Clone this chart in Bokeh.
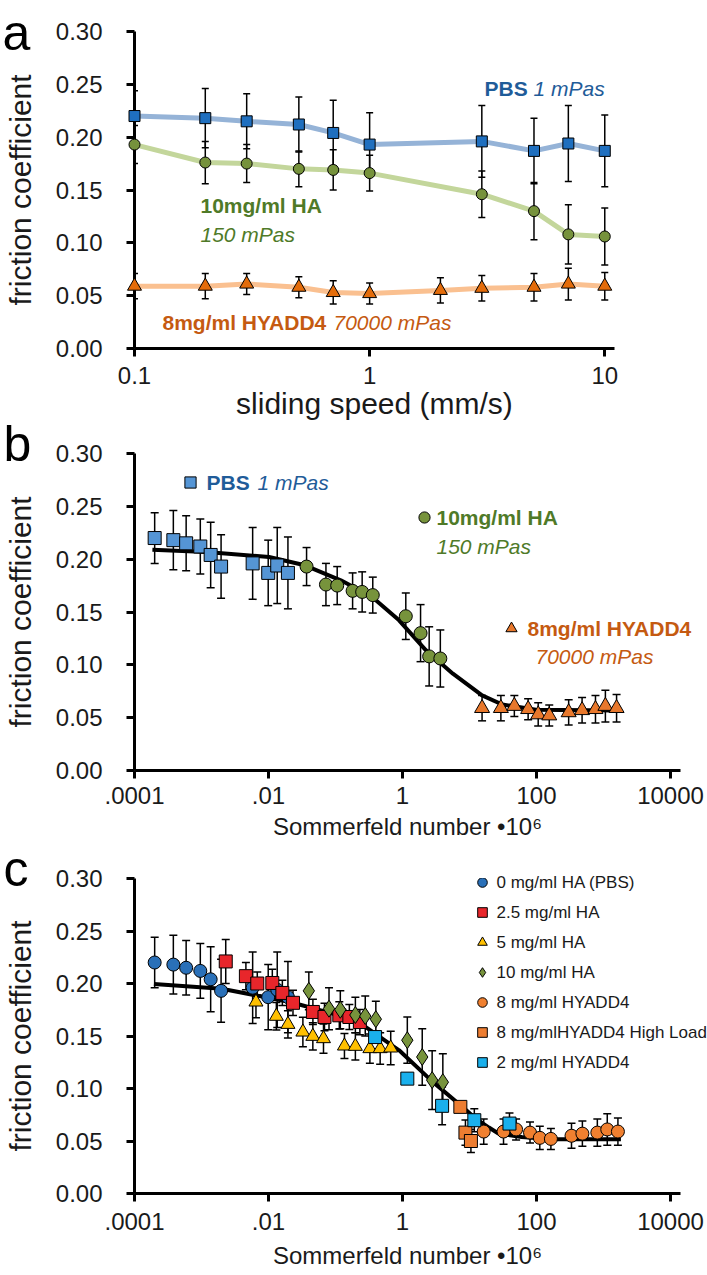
import numpy as np
from bokeh.plotting import figure
from bokeh.models import (ColumnDataSource, Whisker, TeeHead, Range1d, FixedTicker,
                          NumeralTickFormatter, Legend, LegendItem)
from bokeh.core.properties import value
from bokeh.embed import file_html
from bokeh.resources import INLINE

# ---------------- data ----------------
y_ticks = [0.0, 0.05, 0.10, 0.15, 0.20, 0.25, 0.30]
a_ticks = [0.1, 1, 10]
a_tick_labels = ["0.1", "1", "10"]
s_ticks = [1e-4, 1e-2, 1, 100, 1e4]
s_tick_labels = [".0001", ".01", "1", "100", "10000"]

# panel a : friction vs sliding speed
speed = [0.1, 0.2, 0.3, 0.5, 0.7, 1, 3, 5, 7, 10]
pbs_mu = [0.220, 0.218, 0.215, 0.212, 0.204, 0.193, 0.196, 0.187, 0.194, 0.187]
pbs_err = [0.024, 0.028, 0.026, 0.026, 0.031, 0.030, 0.034, 0.031, 0.036, 0.034]
ha_mu = [0.193, 0.176, 0.175, 0.170, 0.169, 0.166, 0.146, 0.130, 0.108, 0.106]
ha_err = [0.018, 0.020, 0.018, 0.017, 0.019, 0.017, 0.022, 0.027, 0.028, 0.027]
speed_hy = [0.1, 0.2, 0.3, 0.5, 0.7, 1, 2, 3, 5, 7, 10]
hy_mu = [0.059, 0.059, 0.061, 0.058, 0.053, 0.052, 0.055, 0.057, 0.058, 0.061, 0.059]
hy_err = [0.012, 0.012, 0.010, 0.010, 0.011, 0.010, 0.012, 0.012, 0.013, 0.015, 0.013]

# panel b : Sommerfeld numbers (x 10^6)
som_pbs = [2.0e-4, 3.8e-4, 5.9e-4, 9.6e-4, 1.37e-3, 1.96e-3, 5.8e-3, 9.9e-3, 1.35e-2, 1.95e-2]
som_ha_b = [0.037, 0.072, 0.106, 0.18, 0.25, 0.36, 1.12, 1.86, 2.5, 3.67]
som_hy_b = [15.4, 29.4, 46.7, 75, 106, 155, 302, 479, 759, 1067, 1567]
fit_b_x = [1.85e-4, 1.18e-3, 1.02e-2, 3.49e-2, 0.12, 0.352, 0.889, 2.24, 5.65, 15.4, 30.8, 98, 1567]
fit_b_y = [0.209, 0.2068, 0.2021, 0.1942, 0.180, 0.1642, 0.1421, 0.1137, 0.0916, 0.0711, 0.0625, 0.0574, 0.0569]

# panel c
som_ha_c = [0.040, 0.080, 0.118, 0.198, 0.278, 0.40, 1.18, 1.97, 2.77, 4.0]
som_hy_c = [16.3, 32.2, 49.6, 80, 112, 164, 333, 484, 809, 1138, 1641]
som_r = [2.3e-3, 4.6e-3, 6.8e-3, 1.14e-2, 1.61e-2, 2.32e-2, 4.6e-2, 6.85e-2, 0.114, 0.161, 0.231]
mu_r = [0.221, 0.207, 0.200, 0.2005, 0.191, 0.1816, 0.1729, 0.1681, 0.1697, 0.1681, 0.1633]
err_r = [0.021, 0.013, 0.011, 0.013, 0.012, 0.012, 0.012, 0.013, 0.013, 0.012, 0.012]
som_y = [6.5e-3, 1.31e-2, 1.95e-2, 3.26e-2, 4.59e-2, 6.62e-2, 0.136, 0.198, 0.326, 0.464, 0.667]
mu_y = [0.1824, 0.1688, 0.1611, 0.1538, 0.1497, 0.1475, 0.1405, 0.1402, 0.138, 0.138, 0.1386]
err_y = [0.015, 0.013, 0.013, 0.014, 0.013, 0.014, 0.012, 0.013, 0.014, 0.015, 0.016]
som_hl = [7.3, 8.7, 10.5]
mu_hl = [0.0825, 0.058, 0.050]
err_hl = [0.003, 0.012, 0.011]
som_2 = [0.39, 1.18, 3.9, 11.8, 39.5]
mu_2 = [0.149, 0.1094, 0.0835, 0.0698, 0.0666]
err_2 = [0.004, 0.003, 0.018, 0.011, 0.010]
fit_c_x = [1.95e-4, 2.0e-3, 2.1e-2, 9.1e-2, 0.28, 0.89, 2.75, 8.7, 12.3, 19.5, 27, 60, 186, 1820]
fit_c_y = [0.1995, 0.195, 0.1824, 0.1713, 0.1586, 0.1364, 0.107, 0.080, 0.0714, 0.0628, 0.0571, 0.0539, 0.0517, 0.0517]

legend_c = ["0 mg/ml HA (PBS)", "2.5 mg/ml HA", "5 mg/ml HA", "10 mg/ml HA",
            "8 mg/ml HYADD4", "8 mg/mlHYADD4 High Load", "2 mg/ml HYADD4"]

# ---------------- style ----------------
FONT = "Liberation Sans"
W = 707
INK = "#1a1a1a"
BLUE_T, GREEN_T, ORANGE_T = "#1f5c99", "#4f7a28", "#c55a11"


def make_fig(height, xr, left, top, bottom, right, ticks, labels, xtitle, xtitle_size,
             tick_standoff, title_standoff):
    p = figure(width=W, height=height, x_axis_type="log", x_range=xr,
               y_range=Range1d(0, 0.30), output_backend="svg", toolbar_location=None,
               min_border_left=left, min_border_right=right,
               min_border_top=top, min_border_bottom=bottom)
    p.outline_line_color = None
    p.grid.visible = False
    p.background_fill_color = "white"
    for ax in (p.xaxis[0], p.yaxis[0]):
        ax.axis_line_width = 3
        ax.axis_line_color = "black"
        ax.major_tick_line_width = 3
        ax.major_tick_line_color = "black"
        ax.major_tick_out = 8
        ax.major_tick_in = 0
        ax.minor_tick_line_color = None
        ax.major_label_text_font = FONT
        ax.major_label_text_font_size = "24px"
        ax.major_label_text_color = INK
        ax.axis_label_text_font = FONT
        ax.axis_label_text_font_style = "normal"
        ax.axis_label_text_color = INK
    xa = p.xaxis[0]
    xa.ticker = FixedTicker(ticks=ticks)
    xa.major_label_overrides = {t: l for t, l in zip(ticks, labels)}
    xa.axis_label = xtitle
    xa.axis_label_text_font_size = xtitle_size
    xa.major_label_standoff = tick_standoff
    xa.axis_label_standoff = title_standoff
    ya = p.yaxis[0]
    ya.ticker = FixedTicker(ticks=y_ticks)
    ya.formatter = NumeralTickFormatter(format="0.00")
    ya.axis_label = "friction coefficient"
    ya.axis_label_text_font_size = "30px"
    ya.major_label_standoff = 24
    ya.axis_label_standoff = 16
    return p


def errbars(p, x, y, e, head=8):
    y = np.array(y)
    e = np.array(e)
    src = ColumnDataSource(dict(x=list(x), lo=y - e, hi=y + e))
    w = Whisker(source=src, base="x", lower="lo", upper="hi", dimension="height",
                line_color="black", line_width=1.5, level="annotation",
                upper_head=TeeHead(size=head, line_color="black", line_width=1.5),
                lower_head=TeeHead(size=head, line_color="black", line_width=1.5))
    p.add_layout(w)


def txt(p, x0, dx, dy, text, color, style, size="21px", baseline="middle"):
    # text anchored at the top-left corner of the frame (x0, 0.30), offset in pixels
    p.text(x=[x0], y=[0.30], text=[text], x_offset=dx, y_offset=dy,
           text_font=value(FONT), text_font_style=style, text_color=color,
           text_font_size=size, text_baseline=baseline, text_align="left",
           level="overlay")


def mark(p, x, y, marker, size, color):
    return p.scatter(x, y, marker=marker, size=size, fill_color=color,
                     line_color="black", line_width=1, level="overlay")


def key(p, r, loc, glyph):
    lg = Legend(items=[LegendItem(label=" ", renderers=[r])], location=loc,
                border_line_color=None, background_fill_alpha=0, padding=0, margin=0,
                glyph_width=glyph, glyph_height=glyph, label_standoff=0,
                label_text_font_size="2px")
    p.add_layout(lg)


# ---------------- panel a ----------------
XA0 = 0.1
pa = make_fig(427, Range1d(XA0, 11.0), 132, 31, 79, 93, a_ticks, a_tick_labels,
              "sliding speed (mm/s)", "30px", 10, 0)
pa.line(speed, pbs_mu, line_color="#95b3d7", line_width=5)
pa.line(speed, ha_mu, line_color="#c3d69b", line_width=5)
pa.line(speed_hy, hy_mu, line_color="#fac090", line_width=5)
errbars(pa, speed, pbs_mu, pbs_err, 7)
errbars(pa, speed, ha_mu, ha_err, 7)
errbars(pa, speed_hy, hy_mu, hy_err, 7)
mark(pa, speed, pbs_mu, "square", 11, "#1f6fbf")
mark(pa, speed, ha_mu, "circle", 11, "#76923c")
mark(pa, speed_hy, hy_mu, "triangle", 14, "#e46c0a")
txt(pa, XA0, 350, 57, "PBS", BLUE_T, "bold")
txt(pa, XA0, 399, 57, "1 mPas", BLUE_T, "italic")
txt(pa, XA0, 66, 174, "10mg/ml HA", GREEN_T, "bold")
txt(pa, XA0, 66, 203, "150 mPas", GREEN_T, "italic")
txt(pa, XA0, 28, 291, "8mg/ml HYADD4", ORANGE_T, "bold")
txt(pa, XA0, 199, 291, "70000 mPas", ORANGE_T, "italic")
txt(pa, XA0, -132, 1, "a", "black", "normal", "50px", "alphabetic")

# ---------------- panel b ----------------
XS0 = 1e-4
pb = make_fig(445, Range1d(XS0, 1.41e4), 131, 50, 78, 27, s_ticks, s_tick_labels,
              "Sommerfeld number \u202210\u2076", "24px", 8, 6)
pb.margin = (-24, 0, 0, 0)
pb.border_fill_alpha = 0
pb.line(fit_b_x, fit_b_y, line_color="black", line_width=4)
errbars(pb, som_pbs, pbs_mu, pbs_err)
errbars(pb, som_ha_b, ha_mu, ha_err)
errbars(pb, som_hy_b, hy_mu, hy_err)
rb1 = mark(pb, som_pbs, pbs_mu, "square", 13, "#5595d5")
rb2 = mark(pb, som_ha_b, ha_mu, "circle", 13, "#77933c")
rb3 = mark(pb, som_hy_b, hy_mu, "triangle", 15, "#e8782c")
key(pb, rb1, (42, 274), 28)
key(pb, rb2, (276, 239), 28)
key(pb, rb3, (363, 128), 28)
txt(pb, XS0, 72, 29, "PBS", BLUE_T, "bold")
txt(pb, XS0, 123, 29, "1 mPas", BLUE_T, "italic")
txt(pb, XS0, 302, 64, "10mg/ml HA", GREEN_T, "bold")
txt(pb, XS0, 302, 93, "150 mPas", GREEN_T, "italic")
txt(pb, XS0, 393, 175, "8mg/ml HYADD4", ORANGE_T, "bold")
txt(pb, XS0, 401, 203, "70000 mPas", ORANGE_T, "italic")
txt(pb, XS0, -131, -10, "b", "black", "normal", "50px", "alphabetic")

# ---------------- panel c ----------------
pc = make_fig(437, Range1d(XS0, 1.41e4), 131, 40, 82, 27, s_ticks, s_tick_labels,
              "Sommerfeld number \u202210\u2076", "24px", 11, 9)
pc.margin = (-10, 0, 0, 0)
pc.border_fill_alpha = 0
pc.line(fit_c_x, fit_c_y, line_color="black", line_width=4)
errbars(pc, som_pbs, pbs_mu, pbs_err)
errbars(pc, som_r, mu_r, err_r)
errbars(pc, som_y, mu_y, err_y)
errbars(pc, som_ha_c, ha_mu, ha_err)
errbars(pc, som_hy_c, hy_mu, hy_err)
errbars(pc, som_hl, mu_hl, err_hl)
errbars(pc, som_2, mu_2, err_2)
rc = [
    mark(pc, som_pbs, pbs_mu, "circle", 13, "#2a70b8"),
    mark(pc, som_r, mu_r, "square", 13, "#e8262b"),
    mark(pc, som_y, mu_y, "triangle", 14, "#ffc000"),
    mark(pc, som_ha_c, ha_mu, "diamond", 17, "#77933c"),
    mark(pc, som_hy_c, hy_mu, "circle", 13, "#f08030"),
    mark(pc, som_hl, mu_hl, "square", 13, "#ed7d31"),
    mark(pc, som_2, mu_2, "square", 13, "#1ab0ec"),
]
leg = Legend(items=[LegendItem(label=" ", renderers=[r]) for r in rc],
             location=(336, 119), border_line_color=None, background_fill_alpha=0,
             padding=0, margin=0, spacing=6, glyph_width=24, glyph_height=24,
             label_standoff=0, label_text_font_size="2px")
pc.add_layout(leg)
for i, lab in enumerate(legend_c):
    txt(pc, XS0, 362, 4 + 30 * i, lab, INK, "normal", "17px")
txt(pc, XS0, -131, -10, "c", "black", "normal", "50px", "alphabetic")

open("out.html", "w").write(file_html([pa, pb, pc], INLINE))
